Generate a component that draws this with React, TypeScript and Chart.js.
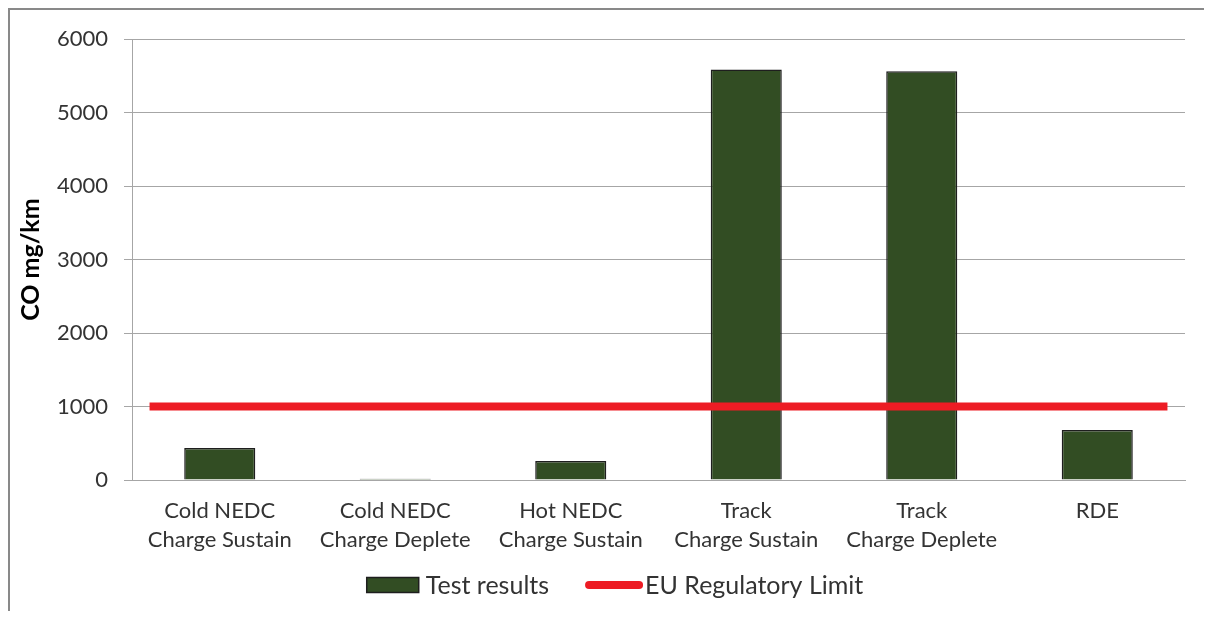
import React, { useEffect, useRef } from "react";
import { Chart, registerables } from "chart.js";

Chart.register(...registerables);

const categories: string[][] = [
  ["Cold NEDC", "Charge Sustain"],
  ["Cold NEDC", "Charge Deplete"],
  ["Hot NEDC", "Charge Sustain"],
  ["Track", "Charge Sustain"],
  ["Track", "Charge Deplete"],
  ["RDE"],
];
const testResults: number[] = [434, 18, 258, 5586, 5565, 679];
const limitX: number[] = [0.1, 5.9];
const limitY: number[] = [1000, 1000];
const yTicks: number[] = [0, 1000, 2000, 3000, 4000, 5000, 6000];

const FONT = "Lato";
const TEXT = "#333333";
const GRID = "#a6a6a6";
const GREEN = "#324d23";
const RED = "#ed1c24";

const legendPlugin = {
  id: "customLegend",
  afterDraw(chart: any) {
    const ctx = chart.ctx as CanvasRenderingContext2D;
    const ds = chart.data.datasets;
    ctx.save();
    ctx.font = `25px ${FONT}`;
    ctx.textBaseline = "middle";
    const t1 = ds[0].label as string;
    const t2 = ds[1].label as string;
    const w1 = ctx.measureText(t1).width;
    const w2 = ctx.measureText(t2).width;
    const boxW = 52, boxH = 15, gap1 = 7, gapMid = 36, lineW = 58, gap2 = 2;
    const total = boxW + gap1 + w1 + gapMid + lineW + gap2 + w2;
    let x = chart.width / 2 + 4 - total / 2;
    const y = 575;
    ctx.fillStyle = ds[0].backgroundColor;
    ctx.fillRect(x, y - boxH / 2, boxW, boxH);
    ctx.strokeStyle = "#1e1e1e";
    ctx.lineWidth = 1.5;
    ctx.strokeRect(x, y - boxH / 2, boxW, boxH);
    x += boxW + gap1;
    ctx.fillStyle = TEXT;
    ctx.fillText(t1, x, y + 1);
    x += w1 + gapMid;
    ctx.strokeStyle = ds[1].borderColor;
    ctx.lineWidth = 8;
    ctx.lineCap = "round";
    ctx.beginPath();
    ctx.moveTo(x + 4, y);
    ctx.lineTo(x + lineW - 4, y);
    ctx.stroke();
    x += lineW + gap2;
    ctx.fillStyle = TEXT;
    ctx.fillText(t2, x, y + 1);
    ctx.restore();
  },
};

export default function App() {
  const canvasRef = useRef<HTMLCanvasElement | null>(null);

  useEffect(() => {
    if (!canvasRef.current) return;
    const chart = new Chart(canvasRef.current, {
      type: "bar",
      data: {
        labels: categories,
        datasets: [
          {
            type: "bar",
            label: "Test results",
            data: testResults,
            backgroundColor: GREEN,
            borderColor: "#1e1e1e",
            borderWidth: 1.5,
            categoryPercentage: 1,
            barPercentage: 0.405,
            grouped: false,
            xAxisID: "x",
            order: 2,
          } as any,
          {
            type: "line",
            label: "EU Regulatory Limit",
            data: limitX.map((x, i) => ({ x, y: limitY[i] })) as any,
            borderColor: RED,
            backgroundColor: RED,
            borderWidth: 8,
            borderCapStyle: "butt",
            pointRadius: 0,
            xAxisID: "x2",
            order: 1,
          } as any,
        ],
      },
      options: {
        responsive: false,
        animation: false,
        layout: { padding: { left: 0, right: 27, top: 28, bottom: 0 } },
        plugins: {
          legend: { display: false },
          tooltip: { enabled: false },
        },
        scales: {
          x: {
            type: "category",
            axis: "x",
            position: "bottom",
            offset: true,
            grid: { display: false },
            border: { display: true, color: GRID, width: 1 },
            ticks: {
              color: TEXT,
              font: { family: FONT, size: 22, lineHeight: 1.32 },
              padding: 8,
              maxRotation: 0,
              autoSkip: false,
            },
            afterFit: (s: any) => {
              s.height = 139;
            },
          },
          x2: {
            type: "linear",
            axis: "x",
            position: "bottom",
            min: 0,
            max: 6,
            offset: false,
            grid: { offset: false },
            display: false,
          },
          y: {
            axis: "y",
            position: "left",
            min: 0,
            max: 6000,
            afterBuildTicks: (s: any) => {
              s.ticks = yTicks.map((v) => ({ value: v }));
            },
            grid: { color: GRID, lineWidth: 1, tickLength: 8, drawTicks: true },
            border: { display: true, color: GRID, width: 1 },
            ticks: {
              color: TEXT,
              font: { family: FONT, size: 22 },
              padding: 16,
              callback: (v: any) => String(v),
            },
            title: {
              display: true,
              text: "CO mg/km",
              color: "#000000",
              font: { family: FONT, size: 25, weight: "bold", lineHeight: 1.2 },
              padding: { top: 6, bottom: 0 },
            },
            afterFit: (s: any) => {
              s.width = 122;
            },
          },
        },
      },
      plugins: [legendPlugin],
    });
    return () => chart.destroy();
  }, []);

  return (
    <div
      style={{
        width: 1204,
        height: 611,
        boxSizing: "border-box",
        borderTop: "2px solid #898989",
        borderLeft: "2px solid #898989",
        marginBottom: -8,
        background: "#ffffff",
      }}
    >
      <canvas ref={canvasRef} width={1202} height={609} style={{ display: "block" }} />
    </div>
  );
}
